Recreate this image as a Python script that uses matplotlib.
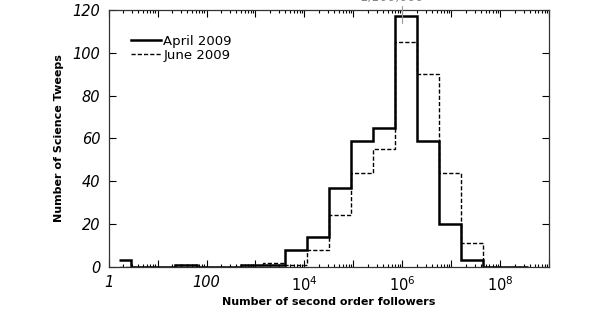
import matplotlib
matplotlib.use("Agg")
import matplotlib.pyplot as plt
import numpy as np
from matplotlib.ticker import FixedLocator, LogLocator, NullFormatter

# bin edges as log10 exponents (first bin is partial)
edge_exp = [0.21] + [0.005 + 0.45 * k for k in range(1, 20)]
april = [3, 0, 0, 1, 0, 0, 1, 1, 8, 14, 37, 59, 65, 117, 59, 20, 3, 0, 0]
june = [0, 0, 0, 1, 0, 0, 0, 2, 1, 8, 24, 44, 55, 105, 90, 44, 11, 0, 0]
tick_labels = ["1", "", "100", "", "$10^4$", "", "$10^6$", "", "$10^8$", ""]
peak_label = "1,100,000"

edges = 10 ** np.asarray(edge_exp)

fig = plt.figure(figsize=(6, 3.15), dpi=100)
ax = fig.add_axes([0.181, 0.153, 0.7345, 0.815])
ax.stairs(june, edges, color="black", lw=1.0, ls=(0, (3, 1.5)), baseline=None,
          label="June 2009")
ax.stairs(april, edges, color="black", lw=1.8, baseline=None, label="April 2009")

ax.set_xscale("log")
ax.set_xlim(1, 1e9)
ax.set_ylim(0, 120)
ax.xaxis.set_major_locator(FixedLocator([10.0 ** k for k in range(10)]))
ax.xaxis.set_minor_locator(LogLocator(base=10, subs=np.arange(2, 10), numticks=20))
ax.xaxis.set_minor_formatter(NullFormatter())
ax.set_xticklabels(tick_labels)
ax.set_yticks(range(0, 121, 20))
ax.tick_params(which="both", direction="in", top=True, right=True, width=0.8)
ax.tick_params(which="major", length=5, labelsize=10.5, pad=6)
ax.tick_params(which="minor", length=2.5)
for lab in ax.get_xticklabels() + ax.get_yticklabels():
    lab.set_fontstyle("italic")
for s in ax.spines.values():
    s.set_linewidth(0.9)
    s.set_color("#333333")

ax.set_xlabel("Number of second order followers", fontsize=8, fontweight="bold",
              labelpad=2)
ax.set_ylabel("Number of Science Tweeps", fontsize=8, fontweight="bold", labelpad=6)

h, l = ax.get_legend_handles_labels()
ax.legend(h[::-1], l[::-1], loc="upper left", frameon=False, fontsize=9.5,
          handlelength=2.2, handletextpad=0.2, labelspacing=0.1,
          bbox_to_anchor=(0.025, 0.95))

# gray annotation at the peak, partly cut off at the top
peak_x = edges[13] * 1.4
ax.annotate(peak_label, xy=(peak_x, 114), xytext=(peak_x * 0.63, 123),
            textcoords="data", ha="center", va="bottom", fontsize=9,
            fontstyle="italic", color="#888888", annotation_clip=False,
            arrowprops=dict(arrowstyle="-", color="#999999", lw=0.8,
                            connectionstyle="angle,angleA=0,angleB=90,rad=0",
                            shrinkA=0, shrinkB=0))

fig.savefig("out.png", dpi=100)
